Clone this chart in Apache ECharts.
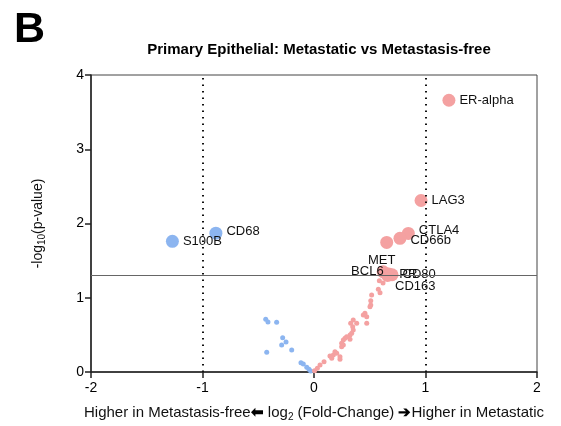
<!DOCTYPE html>
<html>
<head>
<meta charset="utf-8">
<script src="https://cdn.jsdelivr.net/npm/echarts@6/dist/echarts.min.js"></script>
<style>
  html, body { margin: 0; padding: 0; background: #fff; }
  #chart { width: 561px; height: 426px; }
</style>
</head>
<body>
<div id="chart"></div>
<script>
// small non-significant points
var blueX = [-0.433, -0.413, -0.335, -0.281, -0.251, -0.290, -0.424, -0.200, -0.117, -0.096, -0.065, -0.045, -0.030];
var blueY = [0.709, 0.673, 0.669, 0.462, 0.404, 0.363, 0.265, 0.296, 0.125, 0.108, 0.063, 0.036, 0.013];
var redX = [0.586, 0.619, 0.577, 0.592, 0.517, 0.509, 0.509, 0.502, 0.457, 0.442, 0.473, 0.473, 0.352, 0.329,
  0.383, 0.347, 0.352, 0.338, 0.323, 0.293, 0.278, 0.263, 0.323, 0.248, 0.263, 0.248, 0.188, 0.204, 0.173,
  0.143, 0.233, 0.159, 0.233, 0.090, 0.054, 0.030, 0.005];
var redY = [1.229, 1.198, 1.113, 1.067, 1.036, 0.960, 0.902, 0.879, 0.790, 0.767, 0.744, 0.655, 0.700, 0.655,
  0.655, 0.610, 0.565, 0.521, 0.498, 0.475, 0.454, 0.431, 0.440, 0.386, 0.363, 0.341, 0.273, 0.252, 0.229,
  0.215, 0.206, 0.184, 0.171, 0.139, 0.094, 0.050, 0.017];

// labelled significant genes
var sigNames = ['ER-alpha', 'LAG3', 'CTLA4', 'CD66b', 'MET', 'BCL6', 'PR', 'CD80', 'CD163'];
var sigX = [1.21, 0.96, 0.846, 0.771, 0.652, 0.62, 0.67, 0.70, 0.66];
var sigY = [3.66, 2.31, 1.867, 1.80, 1.745, 1.35, 1.32, 1.31, 1.30];
var lowNames = ['S100B', 'CD68'];
var lowX = [-1.27, -0.88];
var lowY = [1.76, 1.87];

var pThreshold = 1.301;
var fcThreshold = [-1, 1];

var red = '#f4a1a1';
var blue = '#8cb5f0';

function pairs(xs, ys) {
  return xs.map(function (x, i) { return [x, ys[i]]; });
}

// label placement tweaks so it reads like the original
var labelTweak = {
  'CTLA4': { position: 'right', offset: [0, -3] },
  'CD66b': { position: 'right', offset: [0, 2] },
  'MET': { position: 'bottom', offset: [-5, 1] },
  'BCL6': { position: 'left', offset: [11, 0] },
  'PR': { position: 'right', offset: [0, 0] },
  'CD80': { position: 'right', offset: [0, 0] },
  'CD163': { position: 'right', offset: [-3, 11] },
  'CD68': { position: 'right', offset: [0, -2] }
};

function named(names, xs, ys) {
  return names.map(function (n, i) {
    var item = { name: n, value: [xs[i], ys[i]] };
    if (labelTweak[n]) item.label = labelTweak[n];
    return item;
  });
}

var chart = echarts.init(document.getElementById('chart'));
var option = {
  animation: false,
  textStyle: { fontFamily: 'Liberation Sans, Arial, sans-serif' },
  title: [
    {
      text: 'B', left: 9, top: 4,
      textStyle: { fontSize: 43, fontWeight: 'bold', color: '#000' }
    },
    {
      text: 'Primary Epithelial: Metastatic vs Metastasis-free',
      left: 314, top: 37, textAlign: 'center',
      textStyle: { fontSize: 15, fontWeight: 'bold', color: '#000' }
    }
  ],
  grid: {
    left: 91, right: 24, top: 75, bottom: 54,
    outerBoundsMode: 'none',
    show: true, borderColor: '#444', borderWidth: 1
  },
  xAxis: {
    type: 'value', min: -2, max: 2, interval: 1,
    axisLine: { onZero: false, lineStyle: { color: '#222', width: 1.5 } },
    axisTick: { show: true, length: 6, lineStyle: { color: '#222', width: 1.5 } },
    axisLabel: { color: '#000', fontSize: 14, margin: 9 },
    splitLine: { show: false },
    name: '{a|Higher in Metastasis-free}{b|\u2b05} log{sub|2} (Fold-Change) {b|\u2794}{a|Higher in Metastatic}',
    nameLocation: 'middle', nameGap: 31,
    nameTextStyle: {
      color: '#111', fontSize: 15,
      rich: {
        a: { fontSize: 15, color: '#111' },
        b: { fontSize: 15, fontWeight: 'bold', color: '#000' },
        sub: { fontSize: 10, verticalAlign: 'bottom', padding: [9, 0, 0, 0], color: '#111' }
      }
    }
  },
  yAxis: {
    type: 'value', min: 0, max: 4, interval: 1,
    axisLine: { show: true, onZero: false, lineStyle: { color: '#222', width: 1.5 } },
    axisTick: { show: true, length: 6, lineStyle: { color: '#222', width: 1.5 } },
    axisLabel: { color: '#000', fontSize: 14, margin: 7 },
    splitLine: { show: false },
    name: '-log{sub|10}(p-value)',
    nameLocation: 'middle', nameGap: 44,
    nameTextStyle: {
      color: '#111', fontSize: 14,
      rich: {
        sub: { fontSize: 10, verticalAlign: 'bottom', padding: [8, 0, 0, 0], color: '#111' }
      }
    }
  },
  series: [
    {
      type: 'scatter', name: 'blue', data: pairs(blueX, blueY),
      symbolSize: 5, itemStyle: { color: blue, opacity: 1 },
      markLine: {
        silent: true, symbol: 'none', label: { show: false },
        data: [
          { yAxis: pThreshold, lineStyle: { color: '#666', width: 1, type: 'solid' } },
          { xAxis: fcThreshold[0], lineStyle: { color: '#111', width: 2, type: [1.5, 5] } },
          { xAxis: fcThreshold[1], lineStyle: { color: '#111', width: 2, type: [1.5, 5] } }
        ]
      }
    },
    {
      type: 'scatter', name: 'red', data: pairs(redX, redY),
      symbolSize: 5, itemStyle: { color: red, opacity: 1 }
    },
    {
      type: 'scatter', name: 'lowSig', data: named(lowNames, lowX, lowY),
      symbolSize: 13, itemStyle: { color: blue, opacity: 1 },
      label: { show: true, position: 'right', formatter: '{b}', color: '#111', fontSize: 13, distance: 4 }
    },
    {
      type: 'scatter', name: 'highSig', data: named(sigNames, sigX, sigY),
      symbolSize: 13, itemStyle: { color: red, opacity: 1 },
      label: { show: true, position: 'right', formatter: '{b}', color: '#111', fontSize: 13, distance: 4 }
    }
  ]
};
chart.setOption(option);
</script>
</body>
</html>
